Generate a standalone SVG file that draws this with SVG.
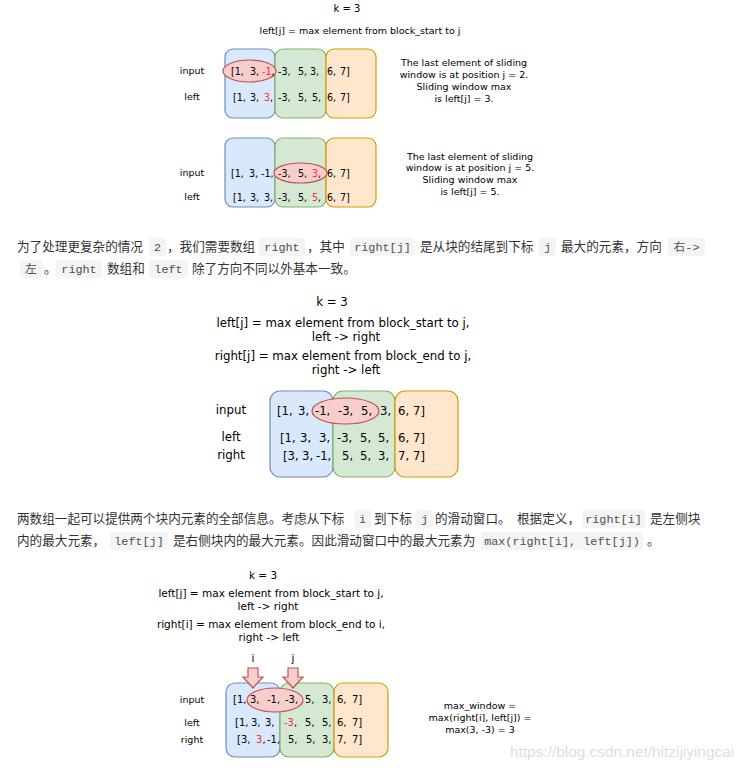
<svg xmlns="http://www.w3.org/2000/svg" width="750" height="768" viewBox="0 0 750 768">
<style>
  .d{font-family:"DejaVu Sans","Liberation Sans",sans-serif;fill:#000}
  .mid{text-anchor:middle}
  .blue{fill:#dae8fc;stroke:#6c8ebf;stroke-width:1.2}
  .green{fill:#d5e8d4;stroke:#82b366;stroke-width:1.2}
  .orange{fill:#ffe6cc;stroke:#d79b00;stroke-width:1.2}
  .win{fill:#f8cecc;stroke:#b85450;stroke-width:1.2}
  .red{fill:#ff2a2a}
  .s1{font-size:9.5px}
  .s2{font-size:10px}
  .s3{font-size:10.5px}
  .s4{font-size:11.8px}
  .r1{font-size:9.6px}
  .r2{font-size:11.6px}
  .r3{font-size:10px}
  .p{font-family:"Noto Sans CJK SC","Microsoft YaHei",sans-serif;font-size:12.6px;fill:#333}
  .cb{fill:#f3f4f4}
  .c{font-family:"Liberation Mono","Noto Sans CJK SC",monospace;font-size:11.8px;fill:#4f4f4f;text-anchor:middle}
  .arrow{fill:#f8cecc;stroke:#b85450;stroke-width:1.2}
  .wm{font-family:"Liberation Sans",Arial,sans-serif;font-size:15.4px;fill:#dedede}
</style>
<rect x="0" y="0" width="750" height="768" fill="#fff"/>

<!-- Diagram 1 -->
<g id="diagram1">
  <text class="d mid s2" x="347" y="12">k = 3</text>
  <text class="d mid s1" x="360" y="34">left[j] = max element from block_start to j</text>
  <rect class="blue" x="225" y="49" width="50" height="69" rx="8"/>
  <rect class="green" x="275" y="49" width="51" height="69" rx="8"/>
  <rect class="orange" x="326" y="49" width="50" height="69" rx="8"/>
  <ellipse class="win" cx="249.5" cy="71" rx="26.5" ry="11"/>
  <text class="d mid s1" x="192" y="74">input</text>
  <text class="d mid s1" x="192" y="100">left</text>
  <text class="d r1" y="75"><tspan x="231">[1,</tspan><tspan x="250">3,</tspan><tspan x="262" class="red">-1</tspan>,<tspan x="278">-3,</tspan><tspan x="298">5,</tspan><tspan x="310">3,</tspan><tspan x="327">6,</tspan><tspan x="340">7]</tspan></text>
  <text class="d r1" y="101"><tspan x="233">[1,</tspan><tspan x="250">3,</tspan><tspan x="264" class="red">3</tspan>,<tspan x="278">-3,</tspan><tspan x="298">5,</tspan><tspan x="312">5,</tspan><tspan x="327">6,</tspan><tspan x="340">7]</tspan></text>
  <text class="d mid s1" x="464" y="66">The last element of sliding</text>
  <text class="d mid s1" x="464" y="78">window is at position j = 2.</text>
  <text class="d mid s1" x="464" y="90">Sliding window max</text>
  <text class="d mid s1" x="464" y="102">is left[j] = 3.</text>
</g>

<!-- Diagram 2 -->
<g id="diagram2">
  <rect class="blue" x="225" y="138" width="50" height="69" rx="8"/>
  <rect class="green" x="275" y="138" width="51" height="69" rx="8"/>
  <rect class="orange" x="326" y="138" width="50" height="69" rx="8"/>
  <ellipse class="win" cx="300.5" cy="173" rx="26.5" ry="10"/>
  <text class="d mid s1" x="192" y="176">input</text>
  <text class="d mid s1" x="192" y="200">left</text>
  <text class="d r1" y="177"><tspan x="231">[1,</tspan><tspan x="249">3,</tspan><tspan x="261">-1,</tspan><tspan x="278">-3,</tspan><tspan x="298">5,</tspan><tspan x="312" class="red">3</tspan>,<tspan x="327">6,</tspan><tspan x="340">7]</tspan></text>
  <text class="d r1" y="201"><tspan x="233">[1,</tspan><tspan x="250">3,</tspan><tspan x="264">3,</tspan><tspan x="278">-3,</tspan><tspan x="298">5,</tspan><tspan x="312" class="red">5</tspan>,<tspan x="327">6,</tspan><tspan x="340">7]</tspan></text>
  <text class="d mid s1" x="470" y="160">The last element of sliding</text>
  <text class="d mid s1" x="470" y="171">window is at position j = 5.</text>
  <text class="d mid s1" x="470" y="183">Sliding window max</text>
  <text class="d mid s1" x="470" y="195">is left[j] = 5.</text>
</g>

<!-- Paragraph 1 -->
<g id="paragraph1">
  <rect class="cb" x="149" y="238" width="17" height="18" rx="3"/>
  <rect class="cb" x="259" y="238" width="46" height="18" rx="3"/>
  <rect class="cb" x="350" y="238" width="65" height="18" rx="3"/>
  <rect class="cb" x="539" y="238" width="17" height="18" rx="3"/>
  <rect class="cb" x="668" y="238" width="37" height="18" rx="3"/>
  <rect class="cb" x="20" y="260" width="22" height="18" rx="3"/>
  <rect class="cb" x="56" y="260" width="46" height="18" rx="3"/>
  <rect class="cb" x="149" y="260" width="39" height="18" rx="3"/>
  <text class="p" y="251"><tspan x="17">为了处理更复杂的情况</tspan><tspan x="167">，我们需要数组</tspan><tspan x="307">，其中</tspan><tspan x="420">是从块的结尾到下标</tspan><tspan x="561">最大的元素，方向</tspan></text>
  <text class="c" y="251"><tspan x="157.5">2</tspan><tspan x="282">right</tspan><tspan x="382.5">right[j]</tspan><tspan x="547.5">j</tspan><tspan x="686.5">右-&gt;</tspan></text>
  <text class="p" y="273"><tspan x="44">。</tspan><tspan x="107">数组和</tspan><tspan x="192">除了方向不同以外基本一致。</tspan></text>
  <text class="c" y="273"><tspan x="31">左</tspan><tspan x="79">right</tspan><tspan x="168.5">left</tspan></text>
</g>

<!-- Diagram 3 -->
<g id="diagram3">
  <text class="d mid s4" x="332" y="306">k = 3</text>
  <text class="d mid s4" x="343" y="327">left[j] = max element from block_start to j,</text>
  <text class="d mid s4" x="346" y="341">left -&gt; right</text>
  <text class="d mid s4" x="343" y="360">right[j] = max element from block_end to j,</text>
  <text class="d mid s4" x="346" y="374">right -&gt; left</text>
  <rect class="blue" x="270" y="391" width="63" height="86" rx="10"/>
  <rect class="green" x="333" y="391" width="62" height="86" rx="10"/>
  <rect class="orange" x="395" y="391" width="63" height="86" rx="10"/>
  <ellipse class="win" cx="345.5" cy="411" rx="33.5" ry="13"/>
  <text class="d mid s4" x="231" y="414">input</text>
  <text class="d mid s4" x="231" y="441">left</text>
  <text class="d mid s4" x="231" y="459">right</text>
  <text class="d r2" y="415"><tspan x="277">[1,</tspan><tspan x="298">3,</tspan><tspan x="315">-1,</tspan><tspan x="338">-3,</tspan><tspan x="361">5,</tspan><tspan x="380">3,</tspan><tspan x="398">6,</tspan><tspan x="413">7]</tspan></text>
  <text class="d r2" y="442"><tspan x="280">[1,</tspan><tspan x="300">3,</tspan><tspan x="319">3,</tspan><tspan x="337">-3,</tspan><tspan x="360">5,</tspan><tspan x="378">5,</tspan><tspan x="398">6,</tspan><tspan x="413">7]</tspan></text>
  <text class="d r2" y="460"><tspan x="283">[3,</tspan><tspan x="302">3,</tspan><tspan x="316">-1,</tspan><tspan x="342">5,</tspan><tspan x="360">5,</tspan><tspan x="378">3,</tspan><tspan x="398">7,</tspan><tspan x="413">7]</tspan></text>
</g>

<!-- Paragraph 2 -->
<g id="paragraph2">
  <rect class="cb" x="354" y="510" width="17" height="18" rx="3"/>
  <rect class="cb" x="416" y="510" width="17" height="18" rx="3"/>
  <rect class="cb" x="582" y="510" width="63" height="18" rx="3"/>
  <rect class="cb" x="110" y="532" width="58" height="18" rx="3"/>
  <rect class="cb" x="481" y="532" width="162" height="18" rx="3"/>
  <text class="p" y="523"><tspan x="17">两数组一起可以提供两个块内元素的全部信息。考虑从下标</tspan><tspan x="374">到下标</tspan><tspan x="435">的滑动窗口。</tspan><tspan x="517">根据定义，</tspan><tspan x="650">是左侧块</tspan></text>
  <text class="c" y="523"><tspan x="362.5">i</tspan><tspan x="424.5">j</tspan><tspan x="613.5">right[i]</tspan></text>
  <text class="p" y="545"><tspan x="17">内的最大元素，</tspan><tspan x="173">是右侧块内的最大元素。因此滑动窗口中的最大元素为</tspan><tspan x="647">。</tspan></text>
  <text class="c" y="545"><tspan x="139">left[j]</tspan><tspan x="562">max(right[i], left[j])</tspan></text>
</g>

<!-- Diagram 4 -->
<g id="diagram4">
  <text class="d mid s3" x="263" y="579">k = 3</text>
  <text class="d mid s3" x="271" y="597">left[j] = max element from block_start to j,</text>
  <text class="d mid s3" x="268" y="610">left -&gt; right</text>
  <text class="d mid s3" x="271" y="628">right[i] = max element from block_end to i,</text>
  <text class="d mid s3" x="269" y="641">right -&gt; left</text>
  <text class="d mid s3" x="253" y="662">i</text>
  <text class="d mid s3" x="293" y="662">j</text>
  <rect class="blue" x="226" y="683" width="54" height="74" rx="9"/>
  <rect class="green" x="280" y="683" width="54" height="74" rx="9"/>
  <rect class="orange" x="334" y="683" width="54" height="74" rx="9"/>
  <ellipse class="win" cx="275" cy="700" rx="28" ry="12"/>
  <text class="d mid s1" x="192" y="703">input</text>
  <text class="d mid s1" x="192" y="726">left</text>
  <text class="d mid s1" x="192" y="743">right</text>
  <text class="d r3" y="703"><tspan x="233">[1,</tspan><tspan x="250">3,</tspan><tspan x="267">-1,</tspan><tspan x="285">-3,</tspan><tspan x="305">5,</tspan><tspan x="322">3,</tspan><tspan x="337">6,</tspan><tspan x="352">7]</tspan></text>
  <text class="d r3" y="726"><tspan x="235">[1,</tspan><tspan x="251">3,</tspan><tspan x="265">3,</tspan><tspan x="284" class="red">-3</tspan>,<tspan x="305">5,</tspan><tspan x="322">5,</tspan><tspan x="337">6,</tspan><tspan x="352">7]</tspan></text>
  <text class="d r3" y="743"><tspan x="237">[3,</tspan><tspan x="256" class="red">3</tspan>,<tspan x="267">-1,</tspan><tspan x="288">5,</tspan><tspan x="306">5,</tspan><tspan x="322">3,</tspan><tspan x="337">7,</tspan><tspan x="352">7]</tspan></text>
  <text class="d mid s1" x="480" y="709">max_window =</text>
  <text class="d mid s1" x="480" y="721">max(right[i], left[j]) =</text>
  <text class="d mid s1" x="480" y="733">max(3, -3) = 3</text>
</g>

<!-- Connectors: block arrows for i and j -->
<g id="connectors">
  <path class="arrow" d="M248 668 H258 V677 H263 L253 688 L243 677 H248 Z"/>
  <path class="arrow" d="M288 668 H298 V677 H303 L293 688 L283 677 H288 Z"/>
</g>

<text class="wm" x="510" y="757">https://blog.csdn.net/hitzijiyingcai</text>
</svg>
